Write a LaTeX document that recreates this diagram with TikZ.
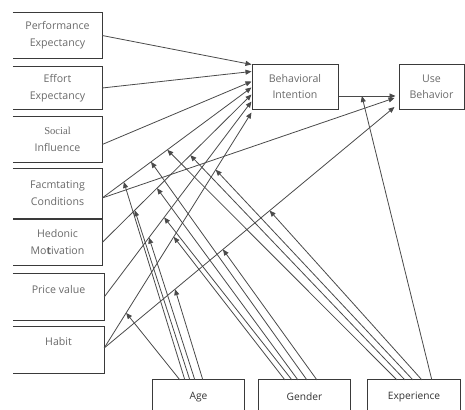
\documentclass[tikz,border=0pt]{standalone}
\usepackage{fontspec}
\setmainfont{Open Sans}
\newfontfamily\serifa{Liberation Serif}
\usetikzlibrary{arrows.meta,calc}
\definecolor{boxc}{HTML}{3A3A3A}
\definecolor{txtc}{HTML}{6A6A6A}
\definecolor{linec}{HTML}{4A4A4A}
\definecolor{btxt}{HTML}{333333}
\begin{document}
\begin{tikzpicture}[x=1pt,y=-1pt,
  boxline/.style={draw=boxc, line width=1pt},
  lbox/.style={minimum width=89pt, inner sep=0pt, align=center, text=txtc, font=\fontsize{10.6}{17}\selectfont},
  mbox/.style={draw=boxc, line width=1pt, minimum height=44pt, inner sep=0pt, align=center, text=txtc, font=\fontsize{10.6}{16}\selectfont},
  bbox/.style={minimum width=91pt, minimum height=34pt, inner sep=0pt, text=btxt, font=\fontsize{10.2}{12}\selectfont},
  conn/.style={draw=linec, line width=0.8pt, -{Triangle[length=6pt,width=5pt]}},
]
\useasboundingbox (0,0) rectangle (465,409);
\fill[white] (0,0) rectangle (465,409);
\begin{scope}
\clip (0,0) rectangle (465,409);
% left boxes
\node[lbox, minimum height=45pt] (pe) at (57.5,35.5) {Performance\\Expectancy};
\node[lbox, minimum height=42pt] (ee) at (57.5,88) {Effort\\Expectancy};
\node[lbox, minimum height=45pt] (si) at (57.5,139.5) {{\serifa Social}\\Influence};
\node[lbox, minimum height=49pt] (fc) at (57.5,193.5) {Facmtating\\Conditions};
\node[lbox, minimum height=45pt] (hm) at (57.5,242.5) {Hedonic\\Mo\textbf{t}ivation};
\node[lbox, minimum width=91pt, minimum height=46pt] (pv) at (58.5,297) {};
\node[lbox] (pvt) at ($(pv.center)+(0,-7)$) {Price value};
\node[lbox, minimum width=91pt, minimum height=46pt] (ht) at (58.5,350) {};
\node[lbox] (htt) at ($(ht.center)+(0,-8)$) {Habit};
\foreach \n in {pe,ee,si,fc,hm,pv,ht}
  \draw[boxline] (\n.north west) -| (\n.south east) -- (\n.south west);
% middle boxes
\node[mbox, minimum width=86pt] (bi) at (295,87) {Behavioral\\Intention};
\node[mbox, minimum width=65pt] (ub) at (431.5,87) {Use\\Behavior};
% bottom boxes
\node[bbox] (age) at (198.5,397) {Age};
\node[bbox] (gen) at (304.5,397) {Gender};
\node[bbox, minimum width=92pt] (exp) at (414,397) {Experience};
\foreach \n in {age,gen,exp}
  \draw[boxline] (\n.south west) |- (\n.north east) -- (\n.south east);
\end{scope}
% connector end points
\coordinate (sPE) at (pe.east);
\coordinate (sEE) at (ee.east);
\coordinate (sSI) at ($(si.east)+(0,5)$);
\coordinate (sFC) at ($(fc.east)+(0,4.5)$);
\coordinate (sHM) at (hm.east);
\coordinate (sPV) at (pv.east);
\coordinate (sHT) at ($(ht.east)+(0,-2)$);
\coordinate (e1) at (bi.north west);
\coordinate (e2) at ($(bi.north west)+(0,7)$);
\coordinate (e3) at ($(bi.north west)+(0,17)$);
\coordinate (e4) at ($(bi.north west)+(0,23)$);
\coordinate (e5) at ($(bi.north west)+(0,30)$);
\coordinate (e6) at ($(bi.north west)+(0,37)$);
\coordinate (e7) at ($(bi.north west)+(0,48)$);
\coordinate (sBI) at ($(bi.east)+(0,9)$);
\coordinate (u1) at ($(ub.west)+(-3,9)$);
\coordinate (u2) at ($(ub.west)+(-4,11)$);
\coordinate (u3) at ($(ub.west)+(-4,20)$);
% main connectors
\draw[conn] (sPE) -- (e1);
\draw[conn] (sEE) -- (e2);
\draw[conn] (sSI) -- (e3);
\draw[conn] (sFC) -- (e4);
\draw[conn] (sHM) -- (e5);
\draw[conn] (sPV) -- (e6);
\draw[conn] (sHT) -- (e7);
\draw[conn] (sBI) -- (u1);
\draw[conn] (sFC) -- (u2);
\draw[conn] (sHT) -- (u3);
% moderator starts
\coordinate (a1) at ($(age.north west)+(27,0)$);
\coordinate (a2) at ($(age.north west)+(32,0)$);
\coordinate (a3) at ($(age.north west)+(37,0)$);
\coordinate (a4) at ($(age.north west)+(42,0)$);
\coordinate (a5) at ($(age.north west)+(50,0)$);
\coordinate (g1) at ($(gen.north west)+(26,0)$);
\coordinate (g2) at ($(gen.north west)+(33,0)$);
\coordinate (g3) at ($(gen.north west)+(39,0)$);
\coordinate (g4) at ($(gen.north west)+(48,0)$);
\coordinate (g5) at ($(gen.north west)+(58,0)$);
\coordinate (x1) at ($(exp.north west)+(29,0)$);
\coordinate (x2) at ($(exp.north west)+(37,0)$);
\coordinate (x3) at ($(exp.north west)+(45,0)$);
\coordinate (x4) at ($(exp.north west)+(54,0)$);
\coordinate (x5) at ($(exp.north west)+(64,0)$);
% age
\draw[conn] (a1) -- ($(sHT)!0.149!(e7)$);
\draw[conn] (a2) -- ($(sFC)!0.145!(e4)$);
\draw[conn] (a3) -- ($(sHM)!0.218!(e5)$);
\draw[conn] (a4) -- ($(sPV)!0.304!(e6)$);
\draw[conn] (a5) -- ($(sHT)!0.244!(u3)$);
% gender
\draw[conn] (g1) -- ($(sHT)!0.472!(e7)$);
\draw[conn] (g2) -- ($(sPV)!0.407!(e6)$);
\draw[conn] (g3) -- ($(sHM)!0.367!(e5)$);
\draw[conn] (g4) -- ($(sFC)!0.327!(e4)$);
\draw[conn] (g5) -- ($(sHT)!0.409!(u3)$);
% experience
\draw[conn] (x1) -- ($(sFC)!0.436!(e4)$);
\draw[conn] (x2) -- ($(sHM)!0.59!(e5)$);
\draw[conn] (x3) -- ($(sHT)!0.757!(e7)$);
\draw[conn] (x4) -- ($(sHT)!0.570!(u3)$);
\draw[conn] (x5) -- ($(sBI)!0.41!(u1)$);
\end{tikzpicture}
\end{document}
